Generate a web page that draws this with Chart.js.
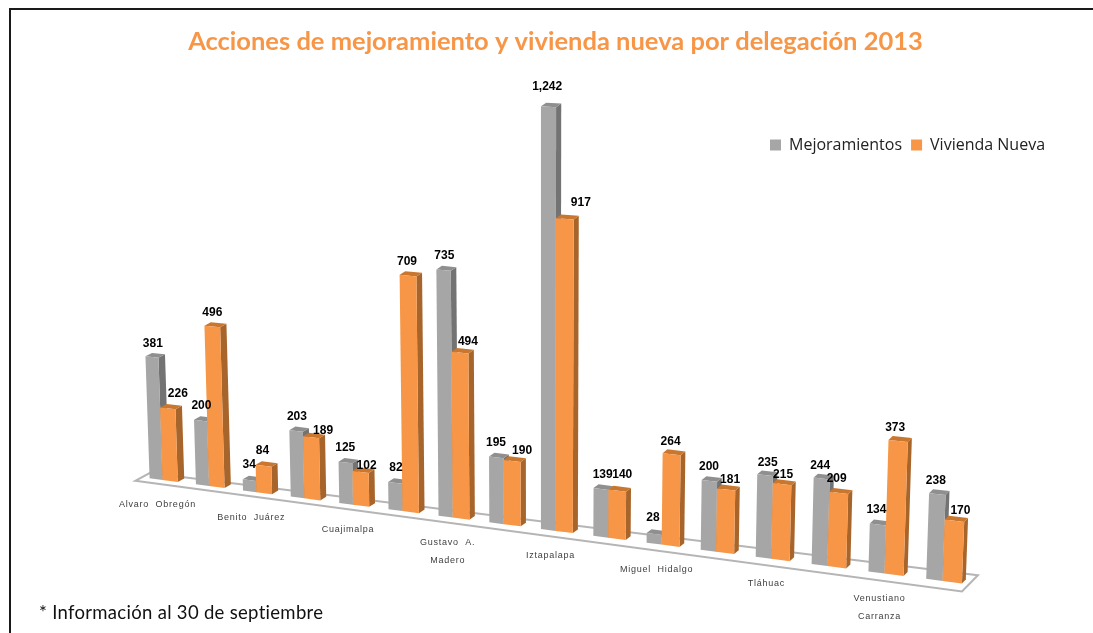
<!DOCTYPE html>
<html><head><meta charset="utf-8">
<style>html,body{margin:0;padding:0;background:#fff}#w{width:1093px;height:633px}</style>
<script src="https://cdn.jsdelivr.net/npm/chart.js@4/dist/chart.umd.js"></script>
</head><body><div id="w"><canvas id="c"></canvas></div>
<script>
const categories = [["Alvaro  Obregón"],[""],["Benito  Juárez"],[""],["Cuajimalpa"],[""],["Gustavo  A.","Madero"],[""],["Iztapalapa"],[""],["Miguel  Hidalgo"],[""],["Tláhuac"],[""],["Venustiano","Carranza"],[""]];
const mejoramientos = [381,200,34,203,125,82,735,195,1242,139,28,200,235,244,134,238];
const viviendaNueva = [226,496,84,189,102,709,494,190,917,140,264,181,215,209,373,170];
const title = "Acciones de mejoramiento y vivienda nueva por delegación 2013";
const footnote = "* Información al 30 de septiembre";

// perspective of the floor applied to the library's pixels
const PERSP = -0.00743, FLOOR_SLOPE = 2.415, LEAN = 0.000087, DX0 = 6.5, DX1 = 0.17, DY = -3.5, CX = 540, GREY_INSET = 0.05;
const FACES = [
  {front:'#a6a6a6', side:'#737373', top:'#8f8f8f'},
  {front:'#f79646', side:'#a8652b', top:'#c9762e'}
];
// small shifts of the value labels, as placed in the reference
const nudgeAx = [2,2,1,2,1,2,2,1,0,3,0,1,4,0,0,0];
const nudgeBx = [10,0,-1,12,6,-1,8,10,16,5,-1,4,1,-2,-3,6];
const nudgeAy = [3,1,1,2,1,1,2,2,-4,2,0,2,4,3,1,3];
const nudgeBy = [1,2,1,9,10,2,5,6,0,0,4,6,7,2,3,6];

function proj(u, yPx, base, d){
  const s = 1/(1+PERSP*u);
  const h = (base-yPx)*s;
  let X = (proj.x0 + proj.dx*u)*s;
  let Y = (base + FLOOR_SLOPE*u)*s - h;
  X += (X-CX)*h*LEAN;
  return [X + (DX0-DX1*u)*d, Y + DY*d*s];
}
function poly(ctx, pts, color){
  ctx.fillStyle = color; ctx.beginPath();
  pts.forEach((p,i)=> i?ctx.lineTo(p[0],p[1]):ctx.moveTo(p[0],p[1]));
  ctx.closePath(); ctx.fill();
}
function fracU(px){ return (px-proj.x0)/proj.dx; }

const scene = {
  id:'scene',
  afterLayout(chart){
    const t = chart.titleBlock;
    t.left = 55.5; t.right = 1055.5; t.top += 26; t.bottom += 26;
    const l = chart.legend, lw = l.right-l.left, lh = l.bottom-l.top;
    l.left = 761; l.right = 761+lw; l.top = 128; l.bottom = 128+lh;
    if(l.adjustHitBoxes) l.adjustHitBoxes();
  },
  afterDatasetsUpdate(chart){
    const xs = chart.scales.x;
    proj.x0 = xs.getPixelForValue(0);
    proj.dx = xs.getPixelForValue(1)-proj.x0;
    chart.data.datasets.forEach((ds,di)=>{
      const f = FACES[di];
      chart.getDatasetMeta(di).data.forEach(el=>{
        el.draw = function(ctx){
          const uL = fracU(this.x-this.width/2) + (di===0?GREY_INSET:0), uR = fracU(this.x+this.width/2);
          const b = this.base, y = this.y;
          const A = proj(uL,y,b,0), B = proj(uR,y,b,0), C = proj(uR,b,b,0), D = proj(uL,b,b,0);
          const A1 = proj(uL,y,b,1), B1 = proj(uR,y,b,1), C1 = proj(uR,b,b,1);
          poly(ctx,[B,B1,C1,C],f.side);
          poly(ctx,[A,A1,B1,B],f.top);
          poly(ctx,[A,B,C,D],f.front);
        };
      });
    });
  },
  beforeDraw(chart){
    const c = chart.ctx;
    c.save(); c.strokeStyle='#1a1a1a'; c.lineWidth=2; c.strokeRect(10,9,1500,1000); c.restore();
  },
  beforeDatasetsDraw(chart){
    const c = chart.ctx, b = chart.scales.y.getPixelForValue(0);
    const pts = [proj(-0.45,b,b,-1), proj(15.45,b,b,-1.8), proj(15.45,b,b,2.3), proj(-0.45,b,b,1.2)];
    c.save(); c.strokeStyle='#b5b5b5'; c.lineWidth=2; c.fillStyle='#fff';
    c.beginPath(); pts.forEach((p,i)=> i?c.lineTo(p[0],p[1]):c.moveTo(p[0],p[1])); c.closePath(); c.fill(); c.stroke(); c.restore();
  },
  // the orange series sits in front of the grey one, so it is drawn last
  beforeDatasetDraw(chart,args){ if(args.index===1) return false; },
  afterDatasetsDraw(chart){
    chart.getDatasetMeta(1).controller.draw();
    const c = chart.ctx, b = chart.scales.y.getPixelForValue(0);
    c.save(); c.textAlign='center'; c.textBaseline='middle';
    // value labels
    c.font='bold 12px "Liberation Sans"'; c.fillStyle='#000'; c.letterSpacing='0px';
    chart.data.datasets.forEach((ds,di)=>{
      chart.getDatasetMeta(di).data.forEach((el,i)=>{
        const uL = fracU(el.x-el.width/2), uR = fracU(el.x+el.width/2);
        const A = proj(uL,el.y,b,0), B = proj(uR,el.y,b,0);
        const nx = (di?nudgeBx:nudgeAx)[i], ny = (di?nudgeBy:nudgeAy)[i];
        c.fillText(ds.data[i].toLocaleString('en-US'), (A[0]+B[0])/2+nx, (A[1]+B[1])/2-16+ny);
      });
    });
    // category labels
    c.font='9px "Liberation Sans"'; c.fillStyle='#404040'; c.letterSpacing='0.75px';
    categories.forEach((lines,i)=>{
      const p = proj(i,b,b,0);
      lines.forEach((t,k)=> { if(t) c.fillText(t, p[0]-5, p[1]+25+k*18); });
    });
    // footnote
    c.letterSpacing='0.3px'; c.textAlign='left'; c.font='18.5px Lato'; c.fillStyle='#111';
    c.fillText(footnote, 39, 613);
    c.restore();
  }
};

new Chart(document.getElementById('c'),{
  type:'bar',
  data:{labels:categories, datasets:[
    {label:'Mejoramientos', data:mejoramientos, backgroundColor:FACES[0].front, clip:false},
    {label:'Vivienda Nueva', data:viviendaNueva, backgroundColor:FACES[1].front, clip:false}
  ]},
  options:{
    responsive:true, maintainAspectRatio:false, animation:false,
    layout:{padding:{left:140,right:233,bottom:153,top:0}},
    categoryPercentage:0.66, barPercentage:1,
    scales:{
      x:{display:false, grid:{display:false}},
      y:{display:false, min:0, max:1242, grid:{display:false}}
    },
    plugins:{
      title:{display:true, text:title, color:'#f79646', font:{family:'Lato',size:25.5,weight:'bold'}, padding:{top:0,bottom:16}},
      legend:{display:true, position:'top', align:'start',
        labels:{boxWidth:11, boxHeight:11, color:'#222', font:{family:'"Open Sans"',size:16}, padding:9}},
      tooltip:{enabled:false}
    }
  },
  plugins:[scene]
});
</script></body></html>
